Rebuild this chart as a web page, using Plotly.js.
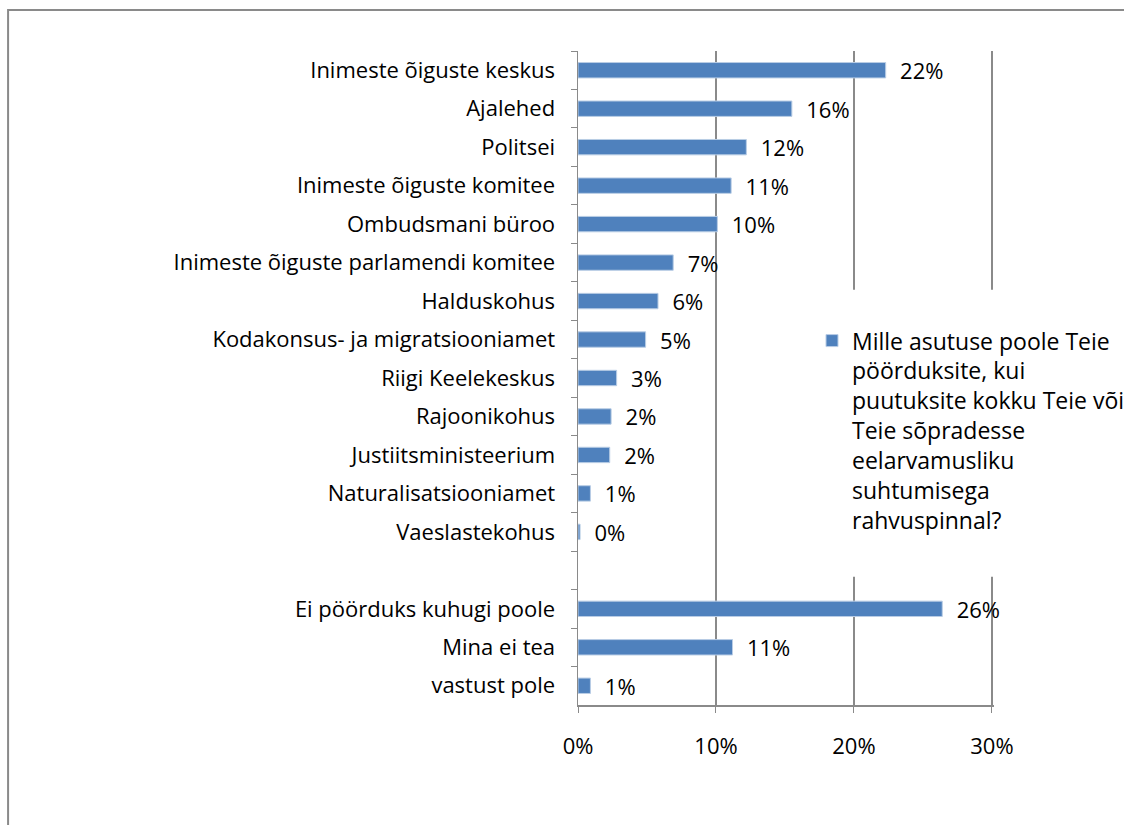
<!DOCTYPE html>
<html>
<head>
<meta charset="utf-8">
<script src="https://cdn.plot.ly/plotly-3.0.1.min.js"></script>
<style>
  html, body { margin: 0; padding: 0; background: white; }
  #graph-container { width: 1124px; height: 825px; }
</style>
</head>
<body>
<div id="graph-container"></div>
<script>
const categories = [
    'Inimeste õiguste keskus',
    'Ajalehed',
    'Politsei',
    'Inimeste õiguste komitee',
    'Ombudsmani büroo',
    'Inimeste õiguste parlamendi komitee',
    'Halduskohus',
    'Kodakonsus- ja migratsiooniamet',
    'Riigi Keelekeskus',
    'Rajoonikohus',
    'Justiitsministeerium',
    'Naturalisatsiooniamet',
    'Vaeslastekohus',
    ' ',
    'Ei pöörduks kuhugi poole',
    'Mina ei tea',
    'vastust pole'
];
const shares = [22.3, 15.5, 12.2, 11.1, 10.1, 6.9, 5.8, 4.9, 2.8, 2.4, 2.3, 0.9, 0.15, null, 26.4, 11.2, 0.9];
const xTicks = [0, 10, 20, 30];
const xTickLabels = ['0%', '10%', '20%', '30%'];
const seriesName = 'Mille asutuse poole Teie<br>pöörduksite, kui<br>puutuksite kokku Teie või<br>Teie sõpradesse<br>eelarvamusliku<br>suhtumisega<br>rahvuspinnal?';

const FONT = '"Open Sans", "Liberation Sans", sans-serif';
const GRID = '#8a8a8a';

const graphContainer = document.getElementById('graph-container');

const traces = [{
    type: 'bar',
    orientation: 'h',
    x: shares,
    y: categories,
    name: seriesName,
    text: shares.map(v => v === null ? '' : '\u00a0\u00a0' + Math.round(v) + '%'),
    textposition: 'outside',
    constraintext: 'none',
    cliponaxis: false,
    textfont: { family: FONT, size: 22, color: '#000' },
    marker: { color: '#4f81bd', line: { color: '#b9cde5', width: 1 } },
    hoverinfo: 'y+x'
}];

const layout = {
    width: 1124,
    height: 825,
    // range runs a bit past 30% so the 30% gridline is still drawn
    margin: { l: 578, r: 130, t: 51, b: 120, autoexpand: false },
    paper_bgcolor: 'white',
    plot_bgcolor: 'white',
    font: { family: FONT, size: 22, color: '#000' },
    bargap: 0.6,
    showlegend: true,
    legend: {
        x: 0.5625,
        xanchor: 'left',
        y: 0.59,
        yanchor: 'top',
        valign: 'top',
        bgcolor: 'rgba(255,255,255,0)',
        borderwidth: 0,
        font: { family: FONT, size: 23, color: '#000' }
    },
    xaxis: {
        range: [0, 30.15],
        tickvals: xTicks,
        ticktext: xTickLabels,
        showgrid: true,
        gridcolor: GRID,
        gridwidth: 1.5,
        zeroline: false,
        showline: true,
        linecolor: GRID,
        linewidth: 1.5,
        ticks: 'outside',
        ticklen: 6,
        tickcolor: GRID,
        ticklabelstandoff: 15,
        fixedrange: true
    },
    yaxis: {
        type: 'category',
        autorange: 'reversed',
        showgrid: false,
        zeroline: false,
        showline: true,
        linecolor: GRID,
        linewidth: 1.5,
        ticks: 'outside',
        tickson: 'boundaries',
        ticklen: 6,
        tickcolor: GRID,
        ticklabelstandoff: 17,
        fixedrange: true
    },
    shapes: [
        // white box behind the legend, hides the gridlines there
        {
            type: 'rect', xref: 'paper', yref: 'paper', layer: 'above',
            x0: 0.6, x1: 1.03, y0: 0.196, y1: 0.635,
            fillcolor: 'white', line: { width: 0 }
        },
        // outer chart frame
        {
            type: 'rect', xref: 'paper', yref: 'paper', layer: 'below',
            x0: -1.37, x1: 2, y0: -1, y1: 1.0627,
            fillcolor: 'rgba(0,0,0,0)', line: { color: '#8a8a8a', width: 2 }
        }
    ]
};

Plotly.newPlot(graphContainer, traces, layout, { displayModeBar: false, staticPlot: true });
</script>
</body>
</html>
